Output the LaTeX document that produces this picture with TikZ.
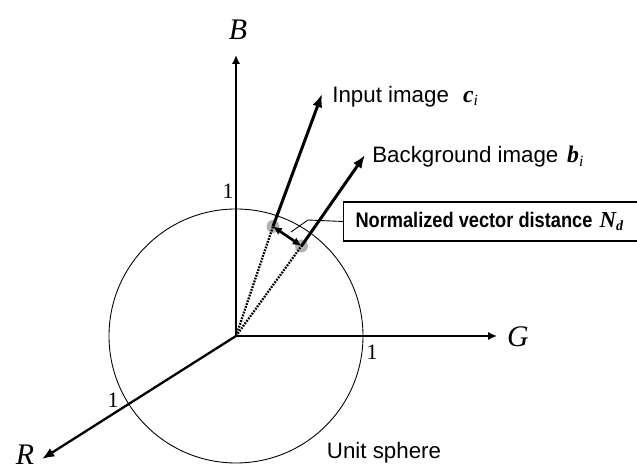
\documentclass[tikz,border=0pt]{standalone}
\usepackage{fontspec}
\usepackage{graphicx}
\setmainfont{Liberation Serif}
\setsansfont{Liberation Sans}
\usetikzlibrary{arrows.meta}

\begin{document}
\begin{tikzpicture}[x=0.02cm, y=-0.02cm,
  axis/.style={line width=0.9pt, -{Latex[length=5pt, width=4.6pt]}},
  vec/.style={line width=1.7pt, -{Latex[length=7.5pt, width=5.8pt]}},
  proj/.style={line width=1.3pt, dash pattern=on 1pt off 0.7pt},
  lbl/.style={font=\sffamily\fontsize{12.7}{15}\selectfont, inner sep=0pt},
  axlbl/.style={font=\fontsize{17}{20}\selectfont\itshape, inner sep=0pt},
  one/.style={font=\fontsize{12.5}{15}\selectfont, inner sep=0pt},
  dot/.style={circle, fill=gray!60, minimum size=13*0.02cm, inner sep=0pt}]
  \useasboundingbox (0,0) rectangle (637,472);
  % origin, axis ends, normalized points on the sphere
  \coordinate (O) at (236,336);
  \coordinate (Bend) at (236,55);
  \coordinate (Gend) at (497,336);
  \coordinate (Rend) at (42,459);
  \coordinate (Cend) at (322,94);
  \coordinate (Bgend) at (365,155);
  \coordinate (knee) at (308,220);
  \coordinate (foot) at (291,232);

  \draw[line width=0.5pt] (O) circle[radius=127];

  \draw[axis] (O) -- (Bend);
  \draw[axis] (O) -- (Gend);
  \draw[line width=1.3pt, -{Latex[length=7pt, width=5.5pt]}] (O) -- (Rend);

  \node[dot] (cn) at (273,226.5) {};
  \node[dot] (bn) at (301.5,246) {};
  \draw[proj] (O) -- (cn.center);
  \draw[proj] (O) -- (bn.center);
  \draw[vec] (cn.center) -- (Cend);
  \draw[vec] (bn.center) -- (Bgend);
  \draw[line width=1.5pt, {Latex[length=5pt, width=4.6pt]}-{Latex[length=5pt, width=4.6pt]}]
    (cn.center) -- (bn.center);

  \node[axlbl] (lB) at (238,30) {B};
  \node[axlbl] (lG) at (518,337) {G};
  \node[axlbl] (lR) at (25,455) {R};
  \node[one] (oneB) at (228,191) {1};
  \node[one] (oneG) at (372,352) {1};
  \node[one] (oneR) at (113,400) {1};

  \node[lbl, anchor=west] (inp) at (332,97)
    {Input image\hspace{8pt}{\rmfamily\bfseries\itshape\fontsize{13.5}{15}\selectfont c}\textsubscript{\rmfamily\itshape i}};
  \node[lbl, anchor=west] (bgd) at (372,157)
    {Background image\hspace{5pt}{\rmfamily\bfseries\itshape\fontsize{13.5}{15}\selectfont b}\textsubscript{\rmfamily\itshape i}};
  \node[lbl] (sph) at (384,453) {Unit sphere};

  \node[draw, line width=0.6pt, anchor=west, inner xsep=12*0.02cm,
        minimum height=39*0.02cm,
        font=\sffamily\bfseries\fontsize{12}{14}\selectfont]
    (ndist) at (343,221.5)
    {\resizebox{4.74cm}{\height}{Normalized vector distance}\hspace{4pt}%
     {\rmfamily\itshape\fontsize{13}{15}\selectfont N}\textsubscript{\rmfamily\itshape d}\hspace{30pt}\null};
  \draw[line width=0.5pt] (ndist.west) -- (knee) -- (foot);
\end{tikzpicture}
\end{document}
